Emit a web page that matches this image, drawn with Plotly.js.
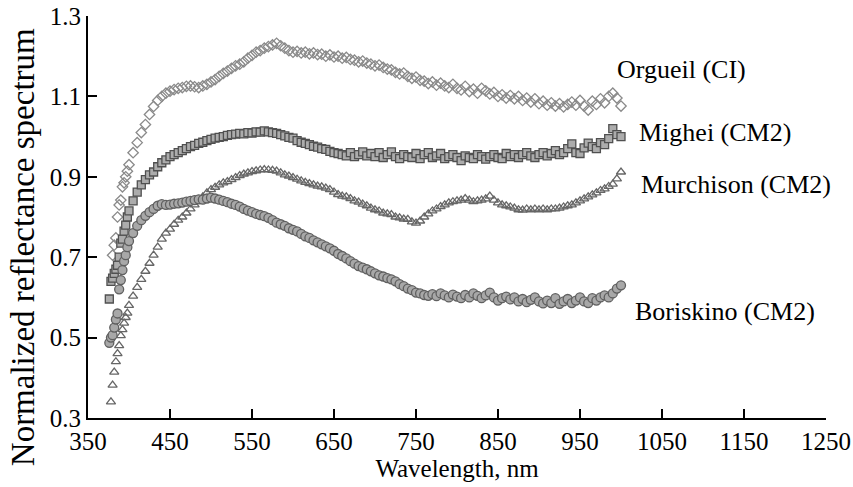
<!DOCTYPE html>
<html>
<head>
<meta charset="utf-8">
<script src="https://cdn.plot.ly/plotly-3.0.1.min.js"></script>
<style>html,body{margin:0;padding:0;background:#fff;}#chart{width:853px;height:487px;}</style>
</head>
<body>
<div id="chart"></div>
<script>
// Wavelength, nm
const wavelength = [376,378,380,382,384,386,388,390,392,394,396,398,400,
405,410,415,420,425,430,435,440,445,450,455,460,465,470,475,480,485,490,495,500,
505,510,515,520,525,530,535,540,545,550,555,560,565,570,575,580,585,590,595,600,
605,610,615,620,625,630,635,640,645,650,655,660,665,670,675,680,685,690,695,700,
705,710,715,720,725,730,735,740,745,750,755,760,765,770,775,780,785,790,795,800,
805,810,815,820,825,830,835,840,845,850,855,860,865,870,875,880,885,890,895,900,
905,910,915,920,925,930,935,940,945,950,955,960,965,970,975,980,985,990,995,1000];

const orgueil = [null,null,0.705,0.73,0.748,0.80,0.83,0.842,0.875,0.885,0.90,0.914,0.93,
0.96,0.985,1.01,1.03,1.055,1.075,1.09,1.10,1.108,1.113,1.117,1.12,1.122,1.125,1.126,1.124,1.122,1.126,1.13,1.136,
1.142,1.15,1.157,1.163,1.17,1.176,1.18,1.186,1.195,1.202,1.21,1.214,1.22,1.224,1.228,1.232,1.226,1.22,1.214,1.21,
1.212,1.208,1.21,1.206,1.208,1.204,1.205,1.2,1.203,1.198,1.2,1.195,1.197,1.192,1.19,1.186,1.188,1.183,1.18,1.176,
1.178,1.172,1.168,1.166,1.16,1.156,1.158,1.15,1.145,1.148,1.14,1.138,1.132,1.136,1.128,1.133,1.126,1.122,1.13,1.12,
1.116,1.125,1.112,1.118,1.108,1.12,1.114,1.106,1.11,1.1,1.104,1.096,1.102,1.094,1.1,1.09,1.096,1.086,1.094,1.082,
1.088,1.078,1.084,1.076,1.082,1.074,1.08,1.086,1.078,1.09,1.076,1.066,1.088,1.08,1.094,1.084,1.1,1.108,1.096,1.076];

const mighei = [0.596,0.64,0.648,0.66,0.67,0.68,0.70,0.735,0.745,0.765,0.78,0.80,0.815,
0.84,0.862,0.88,0.893,0.905,0.912,0.925,0.935,0.942,0.95,0.955,0.96,0.965,0.97,0.975,0.978,0.983,0.986,0.99,0.993,
0.996,0.998,1.0,1.003,1.005,1.006,1.008,1.007,1.01,1.009,1.012,1.011,1.014,1.012,1.01,1.008,1.005,1.002,0.998,0.996,
0.99,0.986,0.983,0.98,0.976,0.974,0.97,0.968,0.963,0.96,0.958,0.955,0.952,0.96,0.95,0.955,0.962,0.952,0.958,0.95,
0.96,0.948,0.955,0.962,0.95,0.945,0.955,0.95,0.948,0.958,0.945,0.955,0.96,0.948,0.952,0.958,0.945,0.95,0.955,0.948,
0.94,0.952,0.948,0.945,0.955,0.95,0.944,0.95,0.955,0.948,0.945,0.958,0.95,0.955,0.948,0.955,0.96,0.952,0.948,0.955,
0.96,0.952,0.958,0.965,0.955,0.96,0.97,0.982,0.96,0.958,0.972,0.984,0.975,0.97,0.985,0.98,0.995,1.02,1.005,1.0];

const murchison = [null,0.34,0.382,0.414,0.44,0.46,0.48,0.505,0.52,0.536,0.55,0.561,0.58,
0.603,0.625,0.645,0.665,0.685,0.705,0.725,0.745,0.76,0.77,0.782,0.792,0.80,0.81,0.82,0.83,0.84,0.85,0.86,0.868,
0.874,0.88,0.885,0.888,0.893,0.898,0.903,0.907,0.91,0.913,0.915,0.917,0.918,0.917,0.916,0.914,0.91,0.905,0.902,0.898,
0.894,0.89,0.886,0.883,0.88,0.877,0.875,0.872,0.868,0.862,0.856,0.852,0.85,0.846,0.84,0.837,0.832,0.828,0.822,0.818,
0.815,0.81,0.808,0.806,0.80,0.798,0.795,0.794,0.788,0.785,0.79,0.80,0.808,0.815,0.82,0.826,0.83,0.835,0.838,0.84,
0.842,0.846,0.842,0.838,0.84,0.842,0.845,0.852,0.842,0.835,0.83,0.828,0.825,0.822,0.818,0.817,0.82,0.818,0.82,0.818,
0.82,0.818,0.82,0.82,0.822,0.825,0.828,0.83,0.835,0.84,0.845,0.85,0.855,0.86,0.866,0.87,0.876,0.882,0.895,0.912];

const boriskino = [0.487,0.50,0.506,0.525,0.545,0.56,0.62,0.643,0.668,0.69,0.705,0.725,0.74,
0.76,0.778,0.792,0.803,0.812,0.82,0.828,0.832,0.83,0.831,0.833,0.834,0.836,0.838,0.84,0.842,0.844,0.843,0.846,0.848,
0.846,0.843,0.84,0.837,0.833,0.83,0.826,0.82,0.816,0.812,0.808,0.805,0.802,0.798,0.792,0.786,0.782,0.778,0.772,0.768,
0.764,0.758,0.752,0.748,0.742,0.737,0.732,0.727,0.722,0.716,0.708,0.703,0.697,0.69,0.684,0.678,0.674,0.67,0.665,0.66,
0.655,0.652,0.648,0.645,0.64,0.633,0.628,0.622,0.618,0.612,0.61,0.606,0.604,0.608,0.603,0.61,0.605,0.60,0.607,0.602,
0.598,0.606,0.60,0.61,0.604,0.598,0.605,0.612,0.60,0.592,0.598,0.602,0.595,0.60,0.59,0.596,0.588,0.594,0.60,0.59,
0.585,0.592,0.586,0.598,0.584,0.59,0.596,0.586,0.592,0.60,0.59,0.586,0.598,0.592,0.60,0.605,0.60,0.61,0.622,0.63];

const seriesNames = ['Orgueil (CI)','Mighei (CM2)','Murchison (CM2)','Boriskino (CM2)'];
const xTicks = [350,450,550,650,750,850,950,1050,1150,1250];
const yTicks = [0.3,0.5,0.7,0.9,1.1,1.3];

const serif = 'Liberation Serif, Times New Roman, serif';

const traces = [
  {x: wavelength, y: orgueil, name: seriesNames[0], mode: 'markers', type: 'scatter',
   marker: {symbol: 'diamond-open', size: 8, color: '#8a8a8a', line: {width: 1.3}}},
  {x: wavelength, y: mighei, name: seriesNames[1], mode: 'markers', type: 'scatter',
   marker: {symbol: 'square', size: 8, color: '#acacac', line: {width: 1.3, color: '#505050'}}},
  {x: wavelength, y: murchison, name: seriesNames[2], mode: 'markers', type: 'scatter',
   marker: {symbol: 'triangle-up-open', size: 8, color: '#666', line: {width: 1.3}}},
  {x: wavelength, y: boriskino, name: seriesNames[3], mode: 'markers', type: 'scatter',
   marker: {symbol: 'circle', size: 9, color: '#a8a8a8', line: {width: 1.3, color: '#606060'}}}
];

const labelX = [993, 1019, 1022, 1015];
const labelY = [1.166, 1.011, 0.88, 0.564];

const layout = {
  width: 853, height: 487,
  margin: {l: 88, r: 27, t: 16, b: 69},
  paper_bgcolor: '#fff', plot_bgcolor: '#fff',
  showlegend: false,
  font: {family: serif, color: '#000', size: 25},
  xaxis: {
    range: [350, 1250], tickvals: xTicks, ticktext: xTicks.map(String),
    ticks: 'inside', ticklen: 9, tickwidth: 2, tickcolor: '#000',
    showline: true, linewidth: 2, linecolor: '#000', showgrid: false, zeroline: false,
    tickfont: {family: serif, size: 25, color: '#000'},
    title: {text: 'Wavelength, nm', font: {family: serif, size: 25, color: '#000'}, standoff: 2}
  },
  yaxis: {
    range: [0.3, 1.3], tickvals: yTicks, ticktext: yTicks.map(v => v.toFixed(1)),
    ticks: 'inside', ticklen: 9, tickwidth: 2, tickcolor: '#000',
    showline: true, linewidth: 2, linecolor: '#000', showgrid: false, zeroline: false,
    tickfont: {family: serif, size: 25, color: '#000'}
  },
  annotations: seriesNames.map((n, i) => ({
    x: labelX[i], y: labelY[i], xref: 'x', yref: 'y', text: n, showarrow: false,
    xanchor: 'left', yanchor: 'middle', font: {family: serif, size: 26, color: '#000'}
  })).concat([{
    // y-axis title
    x: -0.088, y: 0.425, xref: 'paper', yref: 'paper', text: 'Normalized reflectance spectrum',
    textangle: -90, showarrow: false, xanchor: 'center', yanchor: 'middle',
    font: {family: serif, size: 33, color: '#000'}
  }])
};

Plotly.newPlot('chart', traces, layout, {displayModeBar: false, staticPlot: true});
</script>
</body>
</html>
